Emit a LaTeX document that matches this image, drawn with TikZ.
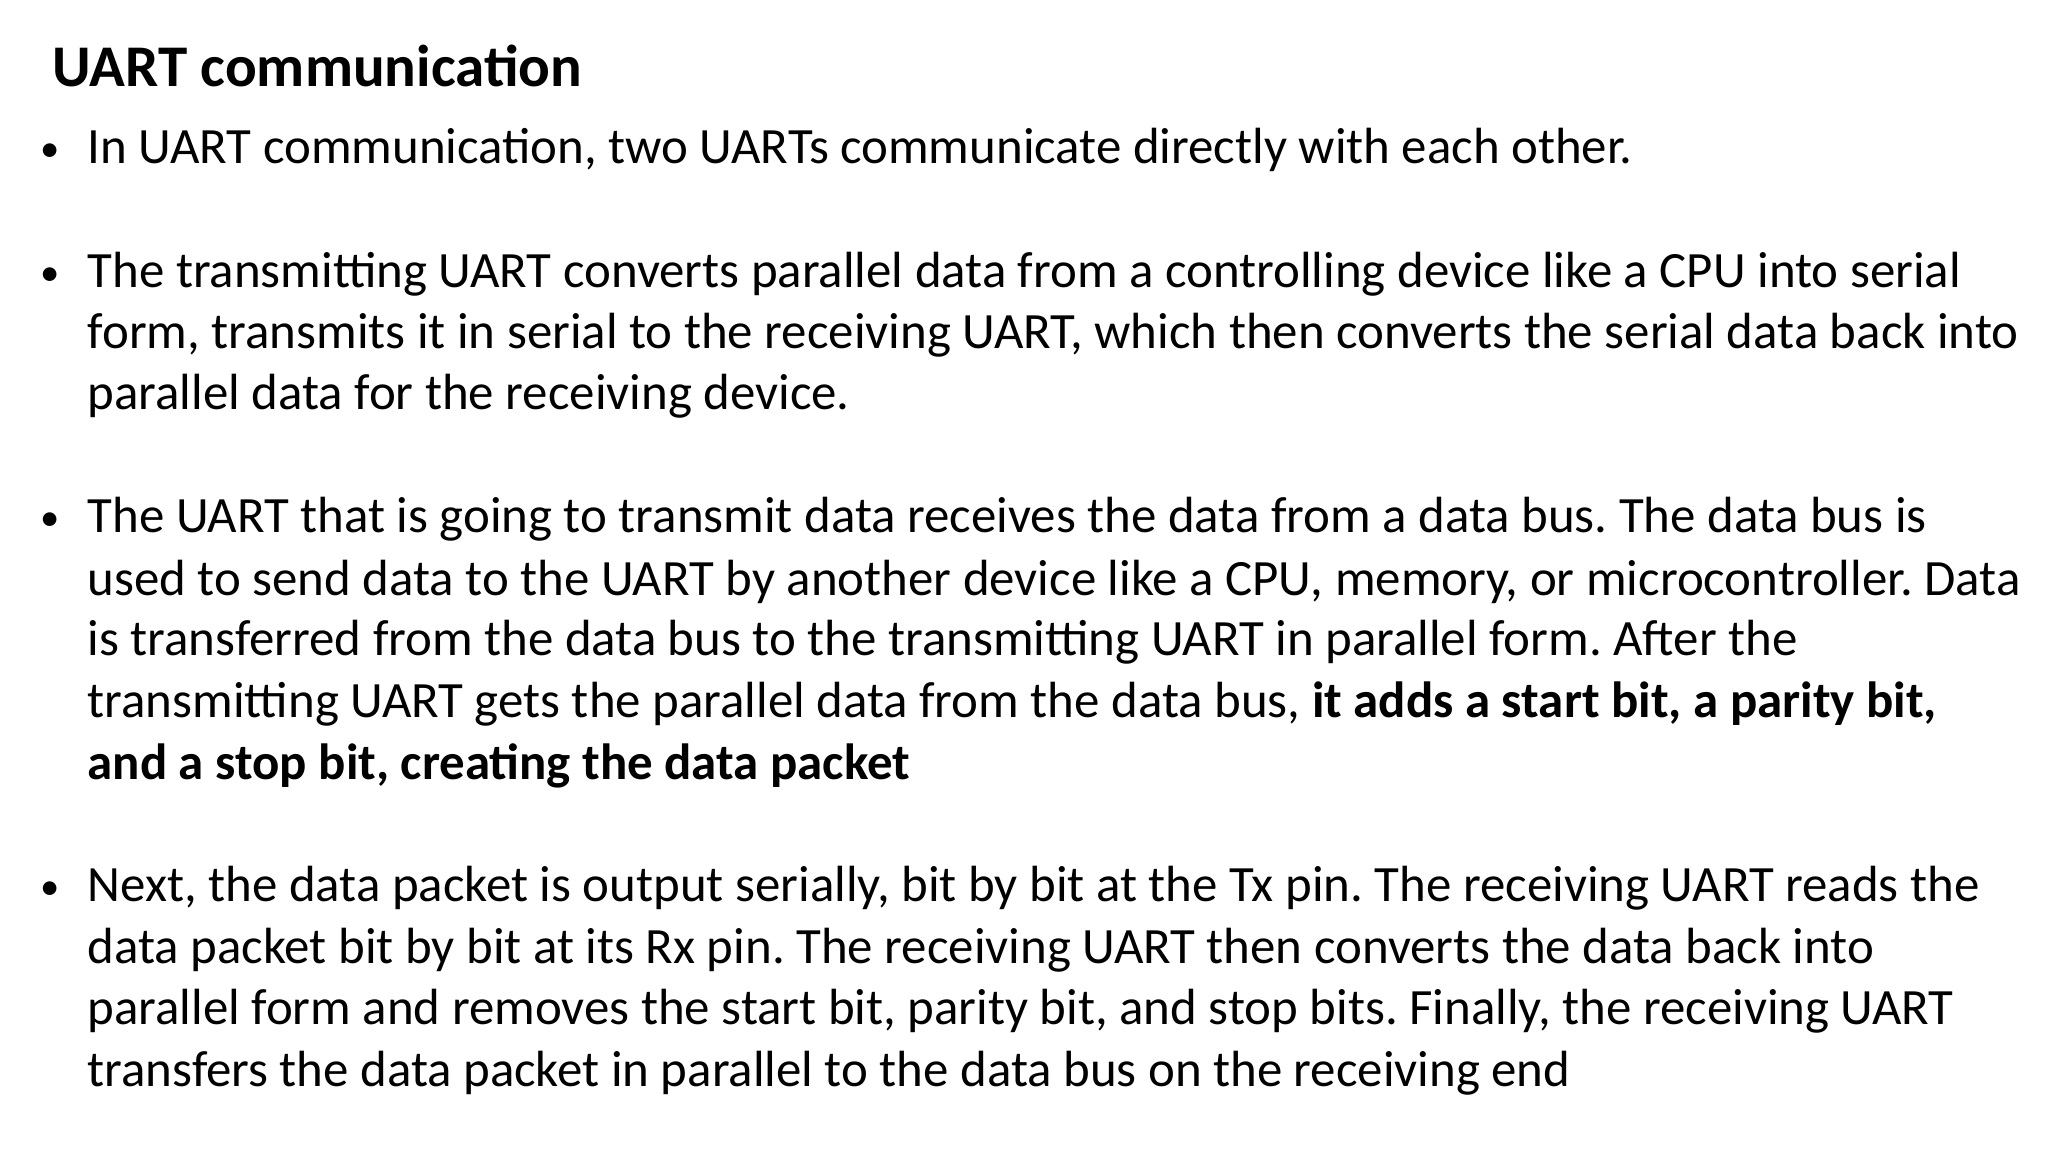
\documentclass[tikz,border=0pt]{standalone}
\usepackage{fontspec}
\setmainfont{Carlito}
\frenchspacing
\begin{document}
\begin{tikzpicture}[x=0.01cm,y=-0.01cm,
  ln/.style={anchor=base west,inner sep=0pt,font=\frenchspacing\fontsize{14.47}{17}\selectfont},
  bl/.style={anchor=base west,inner sep=0pt,font=\fontsize{11}{13}\selectfont}]
\useasboundingbox[fill=white] (0,0) rectangle (2048,1152);
\node[anchor=base west,inner sep=0pt,font=\fontsize{16.8}{20}\selectfont\bfseries] (title) at (52,87) {UART communication};
\node[bl] (b1) at (40,162) {•};
\node[ln] (l1) at (87,164) {In UART communication, two UARTs communicate directly with each other.};
\node[bl] (b2) at (40,286) {•};
\node[ln] (l2) at (87,288) {The transmitting UART converts parallel data from a controlling device like a CPU into serial};
\node[ln] (l3) at (87,349) {form, transmits it in serial to the receiving UART, which then converts the serial data back into};
\node[ln] (l4) at (87,410) {parallel data for the receiving device.};
\node[bl] (b3) at (40,531) {•};
\node[ln] (l5) at (87,533) {The UART that is going to transmit data receives the data from a data bus. The data bus is};
\node[ln] (l6) at (87,595) {used to send data to the UART by another device like a CPU, memory, or microcontroller. Data};
\node[ln] (l7) at (87,656) {is transferred from the data bus to the transmitting UART in parallel form. After the};
\node[ln] (l8) at (87,717) {transmitting UART gets the parallel data from the data bus, \textbf{it adds a start bit, a parity bit,}};
\node[ln] (l9) at (87,779) {\textbf{and a stop bit, creating the data packet}};
\node[bl] (b4) at (40,899) {•};
\node[ln] (l10) at (87,901) {Next, the data packet is output serially, bit by bit at the Tx pin. The receiving UART reads the};
\node[ln] (l11) at (87,963) {data packet bit by bit at its Rx pin. The receiving UART then converts the data back into};
\node[ln] (l12) at (87,1024) {parallel form and removes the start bit, parity bit, and stop bits. Finally, the receiving UART};
\node[ln] (l13) at (87,1086) {transfers the data packet in parallel to the data bus on the receiving end};
\end{tikzpicture}
\end{document}
